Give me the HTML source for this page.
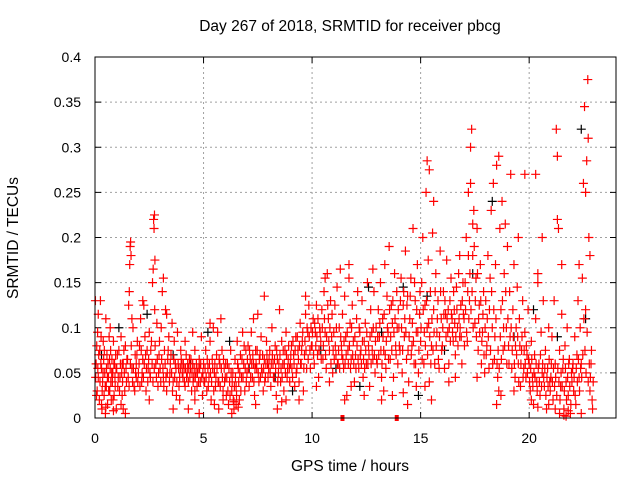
<!DOCTYPE html>
<html><head><meta charset="utf-8"><style>
body{margin:0;background:#fff;}
svg{display:block;font-family:"Liberation Sans",Arial,sans-serif;}
</style></head><body>
<svg id="chart" width="640" height="480">
<text x="350" y="31" text-anchor="middle" font-size="15.5">Day 267 of 2018, SRMTID for receiver pbcg</text>
<text x="350" y="471" text-anchor="middle" font-size="15.5">GPS time / hours</text>
<text transform="translate(18,238) rotate(-90)" text-anchor="middle" font-size="15.5">SRMTID / TECUs</text>
<g id="grid"></g>
<g id="axes"></g>
<g id="black"></g>
<g id="red"></g>
<rect x="95" y="57" width="521" height="361" fill="none" stroke="#000" stroke-width="1"/>
</svg>
<script>
const xTicks=[0,5,10,15,20];
const yTicks=[0,0.05,0.1,0.15,0.2,0.25,0.3,0.35,0.4];
const yTickLabels=["0","0.05","0.1","0.15","0.2","0.25","0.3","0.35","0.4"];
const redData="0.05:60,0.1:30,0.12:95,0.15:45,0.2:20,0.22:75,0.25:130,0.3:55,0.32:10,0.35:40,0.38:85,0.4:65,0.42:25,0.45:50,0.5:110,0.52:35,0.55:70,0.58:15,0.6:60,0.62:45,0.65:90,0.68:30,0.7:55,0.72:75,0.75:20,0.78:65,0.8:40,0.82:50,0.85:85,0.88:25,0.9:60,0.92:45,0.95:70,0.98:10,0.15:115,0.08:80,0.28:90,0.48:5,0.7:100,0.02:130,1.0:55,1.05:35,1.1:75,1.15:45,1.2:90,1.25:25,1.3:60,1.35:50,1.4:80,1.45:40,1.5:65,1.55:125,1.6:170,1.62:190,1.64:195,1.66:180,1.58:140,1.7:55,1.75:100,1.8:35,1.85:70,1.9:45,1.95:85,1.2:15,1.4:5,1.7:110,1.25:60,1.9:60,2.0:50,2.05:80,2.1:110,2.15:40,2.2:65,2.25:125,2.3:90,2.35:30,2.4:75,2.45:55,2.5:95,2.55:45,2.6:85,2.65:150,2.68:165,2.7:220,2.72:210,2.74:225,2.76:175,2.8:60,2.85:105,2.9:35,2.95:70,2.5:20,2.2:130,2.75:120,3.0:55,3.05:100,3.1:140,3.15:45,3.2:75,3.25:120,3.3:30,3.35:65,3.4:90,3.45:50,3.5:70,3.55:105,3.6:40,3.65:85,3.7:60,3.75:25,3.8:95,3.85:55,3.9:45,3.95:75,3.3:115,3.6:10,3.9:20,3.15:155,4.0:60,4.05:45,4.1:55,4.15:35,4.2:70,4.25:50,4.3:40,4.35:65,4.4:55,4.45:30,4.5:60,4.55:45,4.6:75,4.65:50,4.7:35,4.75:55,4.8:65,4.85:40,4.9:90,4.95:25,4.3:10,4.6:20,4.8:5,4.15:85,4.5:95,5.0:60,5.05:40,5.1:75,5.15:30,5.2:55,5.25:45,5.3:85,5.35:20,5.4:65,5.45:100,5.5:50,5.55:35,5.6:70,5.65:95,5.7:40,5.75:60,5.8:110,5.85:75,5.9:30,5.95:55,5.5:15,5.7:10,5.3:105,6.0:45,6.05:25,6.1:60,6.15:15,6.2:40,6.25:75,6.3:30,6.35:50,6.4:10,6.45:65,6.5:35,6.55:85,6.6:55,6.65:20,6.7:70,6.75:45,6.8:95,6.85:60,6.9:30,6.95:75,6.3:5,6.5:15,7.0:50,7.05:80,7.1:35,7.15:65,7.2:95,7.25:45,7.3:60,7.35:25,7.4:75,7.45:55,7.5:115,7.55:40,7.6:70,7.65:90,7.7:50,7.75:30,7.8:65,7.85:45,7.9:85,7.95:60,7.4:15,7.8:135,7.3:110,8.0:55,8.05:75,8.1:35,8.15:100,8.2:60,8.25:45,8.3:80,8.35:25,8.4:65,8.45:50,8.5:120,8.55:40,8.6:85,8.65:60,8.7:30,8.75:75,8.8:95,8.85:45,8.9:65,8.95:55,8.4:10,8.8:20,9.0:60,9.05:80,9.1:45,9.15:70,9.2:35,9.25:90,9.3:55,9.35:75,9.4:40,9.45:105,9.5:60,9.55:85,9.6:30,9.65:70,9.7:115,9.75:55,9.8:95,9.85:125,9.9:75,9.95:100,9.4:20,9.7:135,10.0:80,10.05:110,10.1:60,10.15:95,10.2:125,10.25:70,10.3:45,10.35:100,10.4:85,10.45:120,10.5:65,10.55:140,10.6:95,10.65:55,10.7:160,10.75:110,10.8:75,10.85:130,10.9:90,10.95:50,10.2:35,10.6:155,10.8:40,11.0:95,11.05:125,11.1:70,11.15:145,11.2:60,11.25:100,11.3:165,11.35:80,11.4:115,11.45:55,11.5:135,11.55:90,11.6:25,11.65:75,11.7:155,11.75:105,11.8:65,11.85:125,11.9:85,11.95:40,11.5:20,11.7:170,12.0:70,12.05:110,12.1:140,12.15:55,12.2:95,12.25:75,12.3:130,12.35:45,12.4:85,12.45:105,12.5:60,12.55:150,12.6:80,12.65:35,12.7:120,12.75:95,12.8:65,12.85:140,12.9:50,12.95:100,12.4:25,12.8:165,13.0:60,13.05:120,13.1:90,13.15:150,13.2:45,13.25:110,13.3:75,13.35:170,13.4:55,13.45:135,13.5:95,13.55:190,13.6:65,13.65:125,13.7:105,13.75:45,13.8:160,13.85:80,13.9:140,13.95:60,13.3:30,13.7:25,14.0:100,14.05:75,14.1:155,14.15:50,14.2:125,14.25:90,14.3:185,14.35:65,14.4:135,14.45:40,14.5:110,14.55:155,14.6:80,14.65:210,14.7:60,14.75:130,14.8:95,14.85:170,14.9:50,14.95:115,14.4:15,14.8:35,15.0:85,15.05:150,15.1:200,15.15:60,15.2:125,15.25:250,15.3:100,15.35:175,15.4:40,15.45:140,15.5:80,15.55:205,15.6:120,15.65:60,15.7:160,15.75:95,15.8:130,15.85:55,15.9:185,15.95:110,15.3:285,15.4:275,15.6:240,15.5:20,16.0:80,16.05:140,16.1:55,16.15:115,16.2:175,16.25:95,16.3:60,16.35:130,16.4:155,16.45:110,16.5:85,16.55:120,16.6:70,16.65:145,16.7:100,16.75:160,16.8:90,16.85:125,16.9:60,16.95:150,16.3:40,16.8:180,17.0:110,17.05:150,17.1:200,17.15:85,17.2:250,17.25:130,17.3:300,17.35:320,17.4:180,17.45:230,17.5:105,17.55:155,17.6:210,17.65:75,17.7:125,17.75:170,17.8:60,17.85:95,17.9:140,17.95:50,17.3:260,17.4:215,17.6:45,17.2:180,18.0:130,18.05:80,18.1:180,18.15:55,18.2:155,18.25:230,18.3:100,18.35:260,18.4:65,18.45:170,18.5:280,18.55:45,18.6:290,18.65:210,18.7:120,18.75:240,18.8:75,18.85:160,18.9:215,18.95:100,18.5:15,18.6:30,18.7:25,19.0:190,19.05:80,19.1:140,19.15:270,19.2:55,19.25:120,19.3:170,19.35:45,19.4:100,19.45:145,19.5:60,19.55:110,19.6:35,19.65:75,19.7:130,19.75:55,19.8:95,19.85:45,19.9:70,19.95:120,19.8:270,19.5:200,20.0:60,20.05:30,20.1:85,20.15:45,20.2:15,20.25:70,20.3:110,20.35:40,20.4:150,20.45:60,20.5:25,20.55:95,20.6:50,20.65:130,20.7:35,20.75:75,20.8:10,20.85:55,20.9:100,20.95:40,20.3:270,20.6:200,20.4:160,21.0:45,21.05:90,21.1:20,21.15:130,21.2:60,21.25:320,21.3:290,21.35:210,21.4:75,21.45:35,21.5:115,21.55:55,21.6:10,21.65:80,21.7:40,21.75:100,21.8:25,21.85:65,21.9:5,21.95:50,21.3:220,21.5:170,21.7:2,22.0:55,22.05:30,22.1:90,22.15:15,22.2:70,22.25:130,22.3:45,22.35:100,22.4:60,22.45:155,22.5:260,22.55:345,22.6:250,22.65:285,22.7:375,22.72:310,22.75:200,22.8:180,22.85:60,22.9:20,22.6:120,22.4:5,22.3:170,22.8:30";
const redData2="0.03:45,0.07:25,0.13:55,0.17:70,0.23:40,0.27:60,0.33:30,0.37:50,0.43:75,0.47:35,0.53:55,0.57:45,0.63:30,0.67:65,0.73:40,0.77:50,0.83:20,0.87:60,0.93:35,0.97:55,1.03:70,1.07:45,1.13:30,1.17:60,1.23:50,1.27:40,1.33:75,1.37:30,1.43:55,1.47:65,1.53:45,1.57:35,1.63:60,1.67:80,1.73:40,1.77:55,1.83:30,1.87:50,1.93:70,1.97:40,2.03:60,2.07:35,2.13:75,2.17:50,2.23:45,2.27:60,2.33:70,2.37:55,2.43:40,2.47:65,2.53:50,2.57:75,2.63:60,2.67:40,2.73:55,2.77:80,2.83:45,2.87:65,2.93:50,2.97:85,3.03:40,3.07:65,3.13:55,3.17:35,3.23:60,3.27:45,3.33:50,3.37:75,3.43:40,3.47:60,3.53:50,3.57:30,3.63:65,3.67:45,3.73:55,3.77:40,3.83:60,3.87:35,3.93:55,3.97:65,4.02:50,4.07:60,4.12:40,4.17:55,4.22:45,4.27:60,4.32:55,4.37:45,4.42:65,4.47:50,4.52:40,4.57:55,4.62:45,4.67:60,4.72:50,4.77:40,4.82:55,4.87:60,4.92:45,4.97:50,5.02:40,5.07:55,5.12:45,5.17:65,5.22:35,5.27:60,5.32:50,5.37:40,5.42:55,5.47:30,5.52:60,5.57:45,5.62:55,5.67:40,5.72:65,5.77:35,5.82:55,5.87:45,5.92:65,5.97:40,6.02:60,6.07:45,6.12:30,6.17:55,6.22:25,6.27:50,6.32:40,6.37:20,6.42:35,6.47:45,6.52:25,6.57:60,6.62:40,6.67:50,6.72:30,6.77:65,6.82:45,6.87:80,6.92:55,6.97:40,7.02:65,7.07:55,7.12:75,7.17:45,7.22:60,7.27:70,7.32:40,7.37:55,7.42:60,7.47:75,7.52:50,7.57:65,7.62:45,7.67:55,7.72:70,7.77:55,7.82:40,7.87:60,7.92:70,7.97:45,8.02:65,8.07:50,8.12:60,8.17:70,8.22:45,8.27:65,8.32:55,8.37:75,8.42:40,8.47:60,8.52:70,8.57:55,8.62:45,8.67:75,8.72:60,8.77:50,8.82:70,8.87:55,8.92:80,8.97:40,9.02:70,9.07:55,9.12:85,9.17:60,9.22:75,9.27:50,9.32:90,9.37:65,9.42:80,9.47:60,9.52:75,9.57:95,9.62:55,9.67:85,9.72:75,9.77:100,9.82:65,9.87:90,9.92:55,9.97:80,10.02:95,10.07:70,10.12:105,10.17:80,10.22:90,10.27:110,10.32:75,10.37:95,10.42:65,10.47:100,10.52:80,10.57:110,10.62:70,10.67:90,10.72:125,10.77:85,10.82:100,10.87:60,10.92:115,10.97:75,11.02:65,11.07:80,11.12:100,11.17:60,11.22:75,11.27:55,11.32:90,11.37:70,11.42:65,11.47:85,11.52:60,11.57:70,11.62:95,11.67:60,11.72:80,11.77:55,11.82:100,11.87:70,11.92:60,11.97:90,12.02:55,12.07:80,12.12:65,12.17:100,12.22:70,12.27:60,12.32:85,12.37:65,12.42:55,12.47:75,12.52:95,12.57:60,12.62:70,12.67:90,12.72:60,12.77:75,12.82:100,12.87:70,12.92:85,12.97:65,13.02:90,13.07:70,13.12:105,13.17:75,13.22:60,13.27:90,13.32:115,13.37:70,13.42:85,13.47:100,13.52:65,13.57:120,13.62:90,13.67:75,13.72:130,13.77:95,13.82:110,13.87:70,13.92:100,13.97:120,14.02:80,14.07:130,14.12:100,14.17:75,14.22:140,14.27:110,14.32:95,14.37:125,14.42:75,14.47:90,14.52:135,14.57:70,14.62:105,14.67:85,14.72:150,14.77:60,14.82:120,14.87:95,14.92:75,14.97:140,15.02:100,15.07:65,15.12:120,15.17:95,15.22:80,15.27:130,15.32:70,15.37:105,15.42:90,15.47:60,15.52:110,15.57:75,15.62:95,15.67:140,15.72:80,15.77:110,15.82:65,15.87:90,15.92:140,15.97:75,16.02:100,16.07:115,16.12:130,16.17:90,16.22:110,16.27:120,16.32:100,16.37:85,16.42:115,16.47:95,16.52:140,16.57:105,16.62:90,16.67:120,16.72:80,16.77:110,16.82:100,16.87:90,16.92:130,16.97:115,17.02:80,17.07:120,17.12:95,17.17:140,17.22:110,17.27:160,17.32:120,17.37:140,17.42:100,17.47:190,17.52:130,17.57:90,17.62:160,17.67:110,17.72:95,17.77:130,17.82:85,17.87:115,17.92:70,17.97:100,18.02:70,18.07:110,18.12:90,18.17:120,18.22:75,18.27:140,18.32:60,18.37:120,18.42:90,18.47:110,18.52:60,18.57:75,18.62:55,18.67:90,18.72:65,18.77:130,18.82:100,18.87:80,18.92:140,18.97:60,19.02:110,19.07:60,19.12:90,19.17:100,19.22:75,19.27:90,19.32:60,19.37:80,19.42:70,19.47:90,19.52:40,19.57:80,19.62:60,19.67:90,19.72:45,19.77:75,19.82:60,19.87:80,19.92:50,19.97:65,20.02:40,20.07:55,20.12:65,20.17:35,20.22:50,20.27:45,20.32:60,20.37:30,20.42:55,20.47:40,20.52:70,20.57:35,20.62:60,20.67:45,20.72:55,20.77:25,20.82:45,20.87:35,20.92:65,20.97:30,21.02:60,21.07:40,21.12:55,21.17:35,21.22:45,21.27:25,21.32:55,21.37:40,21.42:20,21.47:50,21.52:35,21.57:65,21.62:30,21.67:55,21.72:20,21.77:45,21.82:60,21.87:35,21.92:15,21.97:40,22.02:60,22.07:45,22.12:25,22.17:55,22.22:40,22.27:65,22.32:30,22.37:55,22.42:45,22.47:70,22.52:110,22.57:75,22.62:50,22.67:95,22.72:40,22.77:60,22.82:45,22.87:75,22.92:10,22.95:40,21.2:10,21.4:5,21.6:3,21.8:8,20.9:15,20.4:12,0.3:15,0.5:12,0.85:8,1.3:10,6.4:18,6.6:12,4.6:30,5.9:20,8.6:18,11.8:35,13.2:20,14.2:28,15.2:35,16.6:45,19.3:30,20.1:20";
const blackData="0.3:70,1.1:100,2.4:115,3.6:70,4.4:60,5.2:95,6.2:85,7.1:55,8.3:45,9.1:30,10.4:75,11.1:55,12.2:35,13.2:95,14.2:145,15.3:135,16.1:75,17.4:160,18.3:240,19.3:90,20.2:120,21.3:90,22.4:320,22.6:110,14.9:25,12.6:145";
const squareTimes=[11.4,13.9];
const squareValues=[0,0];
function parse(s){return s.split(",").map(p=>p.split(":").map(Number));}
const redPts=parse(redData).concat(parse(redData2)), blackPts=parse(blackData);
const X=t=>95+t*(521/24);
const Y=v=>418-v*(361/0.4);
const NS="http://www.w3.org/2000/svg";
function mk(tag,attrs,parent){const e=document.createElementNS(NS,tag);for(const k in attrs)e.setAttribute(k,attrs[k]);parent.appendChild(e);return e;}
const grid=document.getElementById('grid'),axes=document.getElementById('axes');
xTicks.forEach(t=>{
  const x=X(t);
  if(t>0){const l=mk('line',{x1:x,x2:x,y1:57,y2:418,stroke:'#a0a0a0','stroke-dasharray':'2,3'},grid);
  
  }
  mk('line',{x1:x,x2:x,y1:418,y2:412,stroke:'#000'},axes);
  mk('line',{x1:x,x2:x,y1:57,y2:63,stroke:'#000'},axes);
  const tx=mk('text',{x:x,y:443,'text-anchor':'middle','font-size':'14'},axes);
  tx.textContent=String(t);
  
  
});
yTicks.forEach((v,i)=>{
  const y=Y(v);
  if(v>0&&v<0.4){const l=mk('line',{x1:95,x2:616,y1:y,y2:y,stroke:'#a0a0a0','stroke-dasharray':'2,3'},grid);
  
  }
  mk('line',{x1:95,x2:101,y1:y,y2:y,stroke:'#000'},axes);
  mk('line',{x1:610,x2:616,y1:y,y2:y,stroke:'#000'},axes);
  const tx=mk('text',{x:81,y:y+5,'text-anchor':'end','font-size':'14'},axes);
  tx.textContent=yTickLabels[i];
  
  
});
function plus(pts,color,g){
  let d="";
  pts.forEach(([t,v])=>{const x=X(t),y=Y(v/1000);d+=`M${x-4.5},${y}h9M${x},${y-4.5}v9`;});
  const p=mk('path',{d:d,stroke:color,'stroke-width':'1.2',fill:'none'},g);
  
  
}
plus(blackPts,'#000',document.getElementById('black'));
plus(redPts,'#ff0000',document.getElementById('red'));
squareTimes.forEach((t,i)=>{
  const r=mk('rect',{x:X(t)-2,y:Y(squareValues[i])-3,width:4,height:6,fill:'#ff0000'},document.getElementById('red'));
  
  
});
</script>
</body></html>
